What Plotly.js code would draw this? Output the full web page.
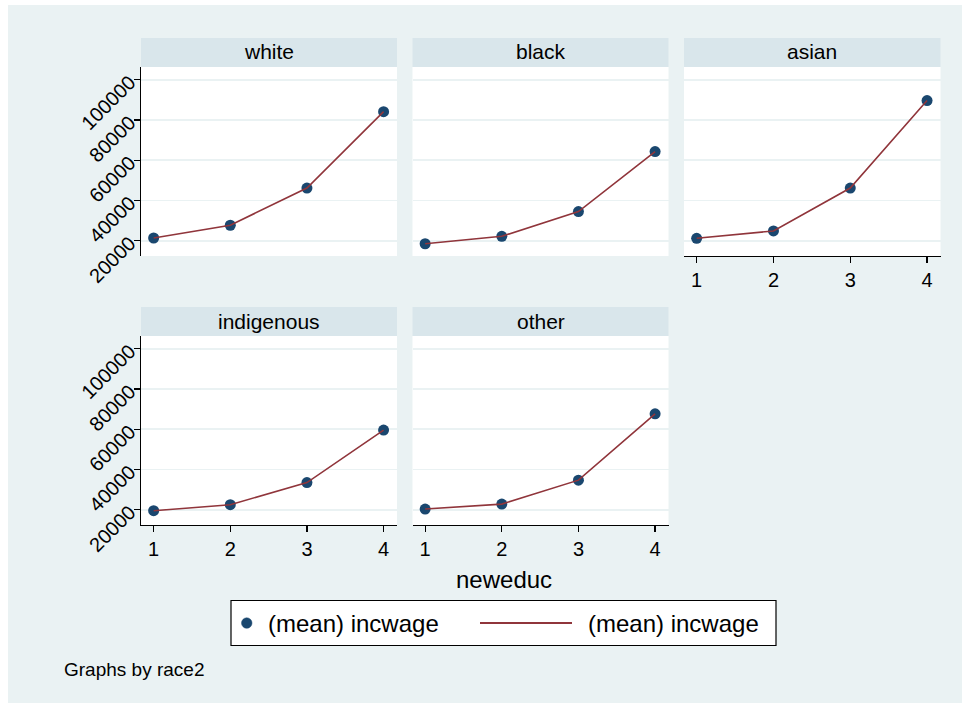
<!DOCTYPE html>
<html>
<head>
<meta charset="utf-8">
<script src="https://cdn.plot.ly/plotly-3.0.1.min.js"></script>
<style>
  html, body { margin: 0; padding: 0; background: #ffffff; }
  #chart { width: 964px; height: 707px; }
</style>
</head>
<body>
<div id="chart"></div>
<script>
// ---- data ----
const groups = ["white", "black", "asian", "indigenous", "other"];
const neweduc = [1, 2, 3, 4];
const incwageWhite = [21350, 27700, 46200, 84200];
const incwageBlack = [18500, 22200, 34500, 64350];
const incwageAsian = [21200, 24850, 46200, 89700];
const incwageIndigenous = [19500, 22500, 33500, 59600];
const incwageOther = [20350, 22800, 34700, 67700];
const xTickVals = [1, 2, 3, 4];
const yTickVals = [20000, 40000, 60000, 80000, 100000];
const yTickText = ["20000", "40000", "60000", "80000", "100000"];
const seriesName = "(mean) incwage";
const xTitle = "neweduc";
const noteText = "Graphs by race2";

const series = [incwageWhite, incwageBlack, incwageAsian, incwageIndigenous, incwageOther];

// ---- layout helpers (pixel geometry) ----
const W = 964, H = 707;
const px = v => v / W;
const py = v => 1 - v / H;

const cols = [[141, 397], [412.5, 668.5], [684, 940.5]];
const rows = [{strip: [38, 67], plot: [67, 256]}, {strip: [307, 336], plot: [336, 525]}];
const panelPos = [[0, 0], [0, 1], [0, 2], [1, 0], [1, 1]];
const showX = [false, false, true, true, true];

const FONT = "Liberation Sans, Arial, Helvetica, sans-serif";
const navy = "#1a476f";
const maroon = "#90353b";
const bg = "#eaf2f3";
const stripCol = "#d9e6eb";
const gridCol = "#eaf2f3";

const traces = [];
const layout = {
  width: W, height: H,
  margin: {l: 0, r: 0, t: 0, b: 0},
  paper_bgcolor: "#ffffff",
  plot_bgcolor: "#ffffff",
  showlegend: false,
  font: {family: FONT, color: "#000"},
  shapes: [],
  annotations: []
};

// graph region background
layout.shapes.push({type: "rect", xref: "paper", yref: "paper", layer: "below",
  x0: px(8), x1: px(962), y0: py(703), y1: py(5), fillcolor: bg, line: {width: 0}});

groups.forEach((g, i) => {
  const [r, c] = panelPos[i];
  const suffix = i === 0 ? "" : String(i + 1);
  const xk = "xaxis" + suffix, yk = "yaxis" + suffix;
  const xr = "x" + suffix, yr = "y" + suffix;
  const xd = [px(cols[c][0]), px(cols[c][1])];
  const yd = [py(rows[r].plot[1]), py(rows[r].plot[0])];
  const firstCol = c === 0;

  // white plot region (drawn over graph background)
  layout.shapes.push({type: "rect", xref: "paper", yref: "paper", layer: "below",
    x0: xd[0], x1: xd[1], y0: yd[0], y1: yd[1], fillcolor: "#ffffff", line: {width: 0}});
  // strip
  layout.shapes.push({type: "rect", xref: "paper", yref: "paper", layer: "below",
    x0: xd[0], x1: xd[1], y0: py(rows[r].strip[1]), y1: py(rows[r].strip[0]),
    fillcolor: stripCol, line: {width: 0}});
  layout.annotations.push({xref: "paper", yref: "paper", x: (xd[0] + xd[1]) / 2,
    y: py((rows[r].strip[0] + rows[r].strip[1]) / 2 - 0.5), text: g, showarrow: false,
    xanchor: "center", yanchor: "middle", font: {family: FONT, size: 21, color: "#000"}});

  layout[xk] = {
    domain: xd, anchor: yr, range: [0.835, 4.175],
    showgrid: false, zeroline: false,
    showline: showX[i], linecolor: "#000", linewidth: 1.2,
    ticks: showX[i] ? "outside" : "", ticklen: 6, tickwidth: 1.2, tickcolor: "#000",
    tickmode: "array", tickvals: xTickVals, ticktext: xTickVals.map(String),
    showticklabels: showX[i], tickfont: {family: FONT, size: 20, color: "#000"},
    fixedrange: true
  };
  layout[yk] = {
    domain: yd, anchor: xr, range: [12400, 106400],
    showgrid: true, gridcolor: gridCol, gridwidth: 1.6, zeroline: false,
    showline: firstCol, linecolor: "#000", linewidth: 1.2,
    ticks: firstCol ? "outside" : "", ticklen: 6, tickwidth: 1.2, tickcolor: "#000",
    tickmode: "array", tickvals: yTickVals, ticktext: yTickText, tickangle: -45,
    showticklabels: firstCol, tickfont: {family: FONT, size: 20, color: "#000"},
    fixedrange: true
  };

  traces.push({type: "scatter", mode: "markers", x: neweduc, y: series[i], xaxis: xr, yaxis: yr,
    name: seriesName, marker: {color: navy, size: 11}, hoverinfo: "skip"});
  traces.push({type: "scatter", mode: "lines", x: neweduc, y: series[i], xaxis: xr, yaxis: yr,
    name: seriesName, line: {color: maroon, width: 1.6}, hoverinfo: "skip"});
});

// x-axis title
layout.annotations.push({xref: "paper", yref: "paper", x: px(504), y: py(579), text: xTitle,
  showarrow: false, xanchor: "center", yanchor: "middle", font: {family: FONT, size: 24, color: "#000"}});

// legend box (manual, Stata-style)
layout.shapes.push({type: "rect", xref: "paper", yref: "paper", layer: "above",
  x0: px(231), x1: px(776), y0: py(645.5), y1: py(600.5), fillcolor: "rgba(0,0,0,0)",
  line: {color: "#000", width: 1.2}});
layout.shapes.push({type: "rect", xref: "paper", yref: "paper", layer: "below",
  x0: px(231), x1: px(776), y0: py(645.5), y1: py(600.5), fillcolor: "#ffffff", line: {width: 0}});
layout.shapes.push({type: "circle", xref: "paper", yref: "paper", layer: "above",
  x0: px(241.5), x1: px(252), y0: py(628.3), y1: py(617.8), fillcolor: navy, line: {color: navy, width: 0.5}});
layout.shapes.push({type: "line", xref: "paper", yref: "paper", layer: "above",
  x0: px(480), x1: px(572), y0: py(623), y1: py(623), line: {color: maroon, width: 2.2}});
layout.annotations.push({xref: "paper", yref: "paper", x: px(266), y: py(623), text: seriesName,
  showarrow: false, xanchor: "left", yanchor: "middle", font: {family: FONT, size: 24, color: "#000"}});
layout.annotations.push({xref: "paper", yref: "paper", x: px(586), y: py(623), text: seriesName,
  showarrow: false, xanchor: "left", yanchor: "middle", font: {family: FONT, size: 24, color: "#000"}});

// note
layout.annotations.push({xref: "paper", yref: "paper", x: px(62), y: py(669), text: noteText,
  showarrow: false, xanchor: "left", yanchor: "middle", font: {family: FONT, size: 19, color: "#000"}});

Plotly.newPlot("chart", traces, layout, {displayModeBar: false, staticPlot: true});
</script>
</body>
</html>
